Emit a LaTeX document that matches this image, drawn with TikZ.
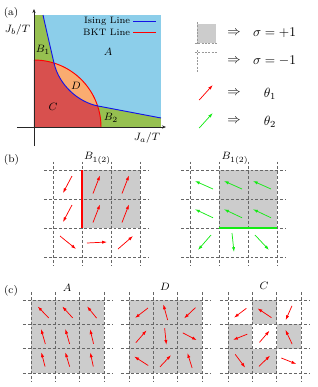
\documentclass[tikz,border=0pt]{standalone}
\usetikzlibrary{arrows.meta}
\definecolor{colA}{RGB}{140,206,234}
\definecolor{colB}{RGB}{150,192,80}
\definecolor{colC}{RGB}{216,80,78}
\definecolor{colD}{RGB}{250,172,112}
\definecolor{isingblue}{RGB}{20,20,230}
\definecolor{spingreen}{RGB}{20,235,20}
\tikzset{
  gridline/.style={black!60, dash pattern=on 2.2pt off 1.5pt, line width=0.45pt},
  legdash/.style={black!40, dash pattern=on 1.5pt off 1pt, line width=0.4pt},
  spinR/.style={red, line width=0.55pt, -{Latex[length=3.6pt,width=2.4pt]}},
  spinG/.style={spingreen, line width=0.55pt, -{Latex[length=3.6pt,width=2.4pt]}},
  axisline/.style={black!85, line width=0.5pt, -{Stealth[length=3pt,width=2.4pt]}},
  lbl/.style={font=\footnotesize, inner sep=0pt},
  cellfill/.style={fill=gray!40},
}
\newcommand\myspin[5]{\draw[#1] ({#2-(#4)/2},{#3-(#5)/2}) -- ({#2+(#4)/2},{#3+(#5)/2});}
\newcommand\mylattice[4]{%
  \foreach \i in {0,...,3}{
    \draw[gridline] ({#1-#4},{#2+\i*#3}) -- ({#1+3*#3+#4},{#2+\i*#3});
    \draw[gridline] ({#1+\i*#3},{#2-#4}) -- ({#1+\i*#3},{#2+3*#3+#4});
  }}
\begin{document}
\begin{tikzpicture}[x=0.75pt,y=-0.75pt]
\useasboundingbox (0,0) rectangle (318,387);
% ---------- (a) phase diagram ----------
\fill[colB] (34,15) rectangle (161,127);
\fill[colA] (43,15) .. controls (47,33) and (51,50) .. (54,63)
  .. controls (59,85) and (78,102) .. (98,106) -- (161,118) -- (161,15) -- cycle;
\fill[colC] (34,127) -- plot[domain=90:0,samples=40] ({34+67*cos(\x)},{127-67*sin(\x)}) -- cycle;
\fill[colD] (54,63) .. controls (59,85) and (78,102) .. (98,106)
  -- plot[domain=18.2:72.6,samples=30] ({34+67*cos(\x)},{127-67*sin(\x)}) -- cycle;
\draw[red, line width=0.7pt] plot[domain=90:0,samples=40] ({34+67*cos(\x)},{127-67*sin(\x)});
\draw[isingblue, line width=0.7pt] (43,15) .. controls (47,33) and (51,50) .. (54,63)
  .. controls (59,85) and (78,102) .. (98,106) -- (161,118);
\draw[axisline] (34,146) -- (34,9);
\draw[axisline] (17,127) -- (166,127);
\node[lbl] (pa) at (11,12.5) {(a)};
\node[lbl] (jb) at (17.5,30) {$J_b/T$};
\node[lbl] (ja) at (147,138) {$J_a/T$};
\node[lbl] (rB1) at (43,50) {$B_1$};
\node[lbl] (rA) at (108,52) {$A$};
\node[lbl] (rD) at (76,86) {$D$};
\node[lbl] (rC) at (53,107) {$C$};
\node[lbl] (rB2) at (111,118) {$B_2$};
\node[font=\scriptsize, inner sep=0pt, anchor=east] (lgI) at (130.5,21) {Ising Line};
\node[font=\scriptsize, inner sep=0pt, anchor=east] (lgB) at (130.5,32) {BKT Line};
\coordinate (lgIe) at (156,21);
\coordinate (lgBe) at (156,32);
\draw[isingblue, line width=0.7pt] ([xshift=2pt]lgI.east) -- (lgIe);
\draw[red, line width=0.7pt] ([xshift=2pt]lgB.east) -- (lgBe);
% ---------- legend ----------
\fill[gray!40] (197,24) rectangle (216,43);
\draw[legdash] (197,22) -- (197,45);
\draw[legdash] (195,43) -- (218,43);
\draw[legdash] (195,52) -- (218,52);
\draw[legdash] (197,50) -- (197,73);
\node[inner sep=0pt] (im1) at (234,33) {$\Rightarrow$};
\node[inner sep=0pt] (im2) at (234,61) {$\Rightarrow$};
\node[inner sep=0pt] (im3) at (234,93) {$\Rightarrow$};
\node[inner sep=0pt] (im4) at (234,121.5) {$\Rightarrow$};
\node[inner sep=0pt] (sp) at (274.5,33) {$\sigma=+1$};
\node[inner sep=0pt] (sm) at (274.5,61) {$\sigma=-1$};
\node[inner sep=0pt] (t1) at (270,93.5) {$\theta_1$};
\node[inner sep=0pt] (t2) at (270,122) {$\theta_2$};
\myspin{spinR}{206}{92.5}{13.5}{-15}
\myspin{spinG}{206}{120.5}{13.5}{-15}
% ---------- (b) ----------
\node[lbl] (pb) at (11.5,160) {(b)};
\node[lbl] (bl1) at (97.5,158.5) {$B_{1(2)}$};
\node[lbl] (bl2) at (235,158.5) {$B_{1(2)}$};
\fill[gray!40] (82,170) rectangle (140,228);
\fill[gray!40] (219,170) rectangle (277,228);
\mylattice{53}{170}{29}{8.5}
\mylattice{190}{170}{29}{8.5}
\draw[red, line width=1.3pt] (82,170) -- (82,228);
\draw[spingreen, line width=1.3pt] (219,228) -- (277,228);
\myspin{spinR}{67.5}{184.5}{-9}{17}
\myspin{spinR}{96.5}{184.5}{7}{-18}
\myspin{spinR}{125.5}{184.5}{7}{-18}
\myspin{spinR}{67.5}{213.5}{-9}{17}
\myspin{spinR}{96.5}{213.5}{7}{-18}
\myspin{spinR}{125.5}{213.5}{7}{-18}
\myspin{spinR}{68}{242.5}{16}{13}
\myspin{spinR}{97}{242.5}{20}{-1}
\myspin{spinR}{125.5}{242.5}{15}{-13}
\myspin{spinG}{204}{185}{-18}{-8}
\myspin{spinG}{233}{185}{-18}{-8}
\myspin{spinG}{262}{185}{-18}{-8}
\myspin{spinG}{204}{213.5}{-18}{-8.5}
\myspin{spinG}{233}{213.5}{-18}{-8.5}
\myspin{spinG}{262}{213.5}{-18}{-8.5}
\myspin{spinG}{204.5}{242.5}{-13}{15}
\myspin{spinG}{233}{242.5}{2}{19}
\myspin{spinG}{262}{242.5}{14}{15}
% ---------- (c) ----------
\node[lbl] (pc) at (11,291) {(c)};
\node[lbl] (cA) at (67,288) {$A$};
\node[lbl] (cD) at (165,287) {$D$};
\node[lbl] (cC) at (264,286) {$C$};
\fill[gray!40] (31,300) rectangle (104,373);
\fill[gray!40] (129,300) rectangle (202,373);
\fill[gray!40] (252.33,300) rectangle (276.67,324.33);
\fill[gray!40] (228,324.33) rectangle (252.33,348.67);
\fill[gray!40] (276.67,324.33) rectangle (301,348.67);
\fill[gray!40] (228,348.67) rectangle (276.67,373);
\mylattice{31}{300}{24.333}{8}
\mylattice{129}{300}{24.333}{8}
\mylattice{228}{300}{24.333}{8}
% A
\myspin{spinR}{43.2}{312.2}{-11}{-11.5}
\myspin{spinR}{67.5}{312.2}{-10.5}{-11.5}
\myspin{spinR}{91.8}{312.2}{-9.5}{-11.7}
\myspin{spinR}{43.2}{336.5}{-4.3}{-15}
\myspin{spinR}{67.5}{336.5}{-4.3}{-15}
\myspin{spinR}{91.8}{336.5}{-3.5}{-14.5}
\myspin{spinR}{43.2}{359.5}{-3.7}{-14.3}
\myspin{spinR}{67.5}{359.5}{-4.3}{-14.3}
\myspin{spinR}{91.8}{359.5}{-3}{-14}
% D
\myspin{spinR}{141.5}{313}{-13}{10}
\myspin{spinR}{165.5}{312.2}{-4.3}{-15.7}
\myspin{spinR}{189.8}{313}{-11.3}{10.7}
\myspin{spinR}{141.2}{336.5}{10.7}{-12.3}
\myspin{spinR}{165.5}{336.5}{1.7}{16.7}
\myspin{spinR}{189.8}{336.5}{14}{7.3}
\myspin{spinR}{141.2}{361}{-14}{-9}
\myspin{spinR}{165.5}{361}{11}{-11.7}
\myspin{spinR}{189.8}{360.5}{-4.7}{-15}
% C
\myspin{spinR}{240.2}{313}{-12.3}{9.3}
\myspin{spinR}{264.5}{313}{-14}{-9.3}
\myspin{spinR}{288.8}{313}{-6.3}{14.3}
\myspin{spinR}{240.2}{337}{-14.3}{5.7}
\myspin{spinR}{264.5}{336.5}{10}{-11.7}
\myspin{spinR}{288.8}{337}{-6.7}{-14.3}
\myspin{spinR}{240.2}{361}{10}{13.3}
\myspin{spinR}{264.5}{361}{11}{-10.7}
\myspin{spinR}{288.8}{361}{15}{6}
\end{tikzpicture}
\end{document}
